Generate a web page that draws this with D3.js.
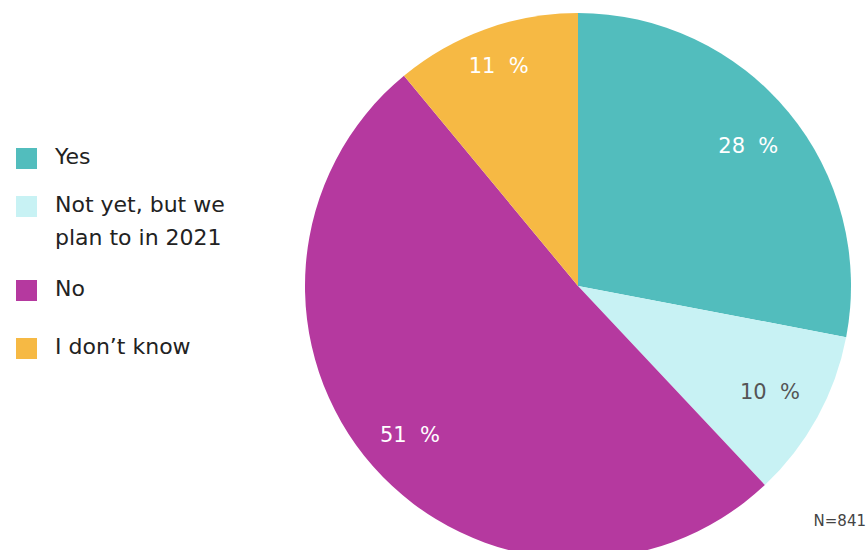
<!DOCTYPE html>
<html>
<head>
<meta charset="utf-8">
<script src="https://cdn.jsdelivr.net/npm/d3@7"></script>
<style>
  body { margin: 0; background: #fff; }
  svg { display: block; font-family: "DejaVu Sans", "Noto Sans", sans-serif; }
</style>
</head>
<body>
<div id="chart"></div>
<script>
var categories = ["Yes", "Not yet, but we plan to in 2021", "No", "I don't know"],
    legendLines = [["Yes"], ["Not yet, but we", "plan to in 2021"], ["No"], ["I don\u2019t know"]],
    values = [28, 10, 51, 11],
    colors = ["#52bdbd", "#c8f2f4", "#b5399f", "#f6b944"],
    labelColors = ["#ffffff", "#555555", "#ffffff", "#ffffff"],
    note = "N=841";

var width = 867, height = 550,
    cx = 578, cy = 286, radius = 273;

// label distance from centre, per slice
var labelRadius = [221, 219, 224, 234];

var svg = d3.select("#chart").append("svg")
    .attr("width", width)
    .attr("height", height);

var pie = d3.pie().sort(null).value(d => d);
var arcs = pie(values);

var arc = d3.arc().innerRadius(0).outerRadius(radius);

var g = svg.append("g").attr("transform", "translate(" + cx + "," + cy + ")");

g.selectAll("path")
  .data(arcs)
  .enter()
  .append("path")
  .attr("d", arc)
  .attr("fill", (d, i) => colors[i]);

g.selectAll("text")
  .data(arcs)
  .enter()
  .append("text")
  .attr("transform", function(d, i) {
    var r = labelRadius[i];
    var c = d3.arc().innerRadius(r).outerRadius(r).centroid(d);
    return "translate(" + c + ")";
  })
  .attr("text-anchor", "middle")
  .attr("dy", "0.36em")
  .style("font-size", "21px")
  .style("fill", (d, i) => labelColors[i])
  .text(d => d.data + "\u00a0\u00a0%");

// legend
var legendY = [148, 196, 280, 338];
var legend = svg.selectAll("g.legend")
  .data(categories)
  .enter()
  .append("g")
  .attr("class", "legend")
  .attr("transform", (d, i) => "translate(16," + legendY[i] + ")");

legend.append("rect")
  .attr("width", 21)
  .attr("height", 21)
  .attr("fill", (d, i) => colors[i]);

legend.append("text")
  .attr("x", 39)
  .attr("y", 16)
  .style("font-size", "22px")
  .style("fill", "#222")
  .selectAll("tspan")
  .data((d, i) => legendLines[i])
  .enter()
  .append("tspan")
  .attr("x", 39)
  .attr("dy", (d, i) => i ? 33 : 0)
  .text(d => d);

svg.append("text")
  .attr("x", 866)
  .attr("y", 526)
  .attr("text-anchor", "end")
  .style("font-size", "15px")
  .style("fill", "#444")
  .text(note);
</script>
</body>
</html>
